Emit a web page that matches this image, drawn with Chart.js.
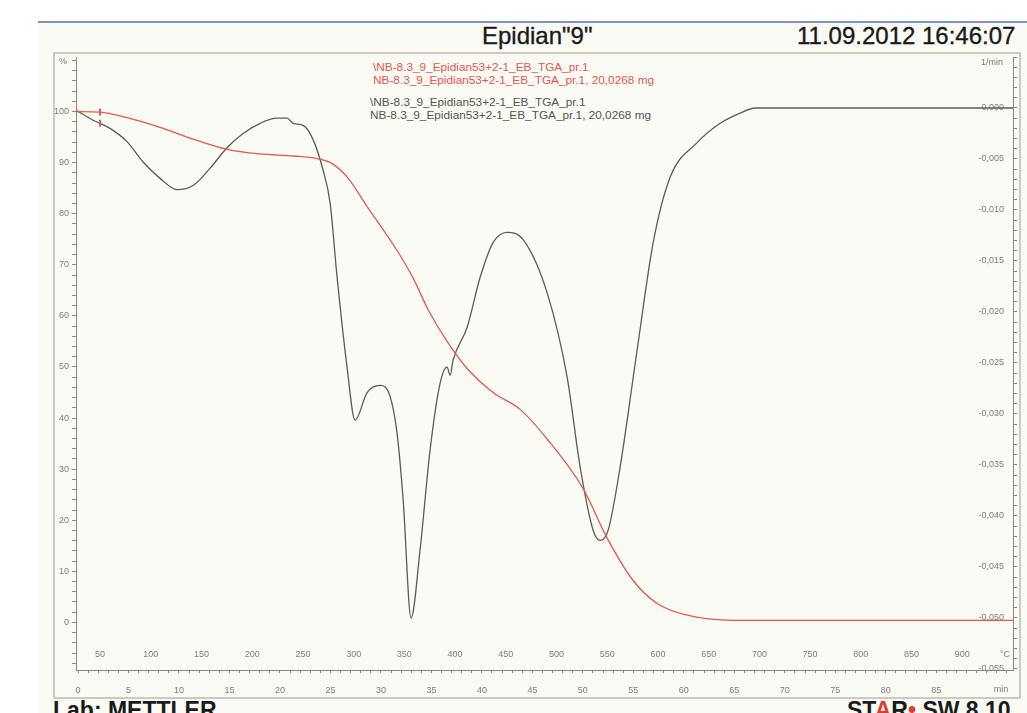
<!DOCTYPE html>
<html>
<head>
<meta charset="utf-8">
<script src="https://cdn.jsdelivr.net/npm/chart.js@4/dist/chart.umd.min.js"></script>
<style>
  html, body { margin:0; padding:0; background:#ffffff; }
  body { width:1027px; height:713px; position:relative; overflow:hidden; font-family:"Liberation Sans", Arial, sans-serif; }
  #topline { position:absolute; left:38px; top:21px; width:989px; height:2px; background:#7d92bd; }
  #panel { position:absolute; left:38px; top:23px; width:989px; height:690px; background:#fbfbf5; }
  #frame { position:absolute; left:53px; top:52px; width:964px; height:643px; border:2px solid #cdc9bd; box-sizing:content-box; }
  .t { position:absolute; white-space:nowrap; }
  .big { font-size:24px; color:#1a1a1a; -webkit-text-stroke:0.35px #1a1a1a; }
  #title { left:482px; top:22px; }
  #date { left:797px; top:22px; }
  #lab { left:53px; top:697px; font-size:23px; font-weight:bold; color:#1a1a1a; }
  #star { left:847px; top:697px; font-size:23px; font-weight:bold; color:#1a1a1a; }
  .lg { font-size:11.8px; line-height:13px; }
  #lg1 { left:373px; top:61px; color:#e8574c; }
  #lg2 { left:370px; top:96px; color:#55554f; }
  canvas { position:absolute; left:0; top:0; }
</style>
</head>
<body>
<div id="panel"></div>
<div id="topline"></div>
<div id="frame"></div>
<div class="t big" id="title">Epidian"9"</div>
<div class="t big" id="date">11.09.2012 16:46:07</div>
<div class="t lg" id="lg1">\NB-8.3_9_Epidian53+2-1_EB_TGA_pr.1<br>NB-8.3_9_Epidian53+2-1_EB_TGA_pr.1, 20,0268 mg</div>
<div class="t lg" id="lg2">\NB-8.3_9_Epidian53+2-1_EB_TGA_pr.1<br>NB-8.3_9_Epidian53+2-1_EB_TGA_pr.1, 20,0268 mg</div>
<div class="t" id="lab">Lab: METTLER</div>
<div class="t" id="star">S<span>T</span><span style="color:#e23b2e">A</span>R<span style="color:#e23b2e">&#8226;</span> SW 8.10</div>
<canvas id="c" width="1027" height="713"></canvas>
<script>
// TGA curve (mass %, left axis) vs temperature (°C)
const tgaTemp = [26.3, 50, 76.6, 109.2, 141.7, 175.2, 207.8, 240.3, 264, 278, 293.5, 313.3, 342.8, 358.6, 374, 392.1, 411.9, 437.5, 464.1, 490.7, 526.2, 549.9, 575.5, 599.2, 628.8, 674.1, 740, 850, 950];
const tgaMass = [100.0, 99.9, 98.8, 96.9, 94.6, 92.6, 91.7, 91.3, 90.8, 89.9, 87.2, 81.4, 72.8, 67.4, 61.0, 55.0, 49.7, 45.0, 41.7, 35.9, 26.2, 16.5, 8.2, 3.7, 1.4, 0.4, 0.4, 0.4, 0.4];

// DTG curve (1/min, right axis) vs temperature (°C)
const dtgTemp = [26.3, 43.1, 50, 59.9, 76.6, 92.4, 109.2, 125.9, 141.7, 158.5, 175.2, 191.0, 207.8, 224.5, 234.4, 240.3, 250.2, 260.0, 269.9, 276.8, 283.7, 293.5, 301.4, 313.3, 326.1, 336.0, 342.8, 348.8, 356.6, 365.5, 375.4, 385.2, 392.1, 395.1, 398.1, 411.9, 424.7, 437.5, 451.3, 467.1, 490.7, 510.5, 523.3, 536.1, 543.0, 550.9, 562.7, 579.5, 595.3, 612.0, 638.6, 661.3, 681.0, 695.8, 750, 800, 850, 900, 950];
const dtgRate = [-0.0002, -0.0012, -0.0015, -0.0020, -0.0033, -0.0053, -0.0069, -0.0080, -0.0076, -0.0059, -0.0039, -0.0025, -0.0015, -0.0010, -0.0010, -0.0015, -0.0017, -0.0031, -0.0061, -0.0093, -0.0166, -0.0254, -0.0306, -0.0279, -0.0272, -0.0283, -0.0319, -0.0384, -0.0500, -0.0433, -0.0335, -0.0270, -0.0254, -0.0262, -0.0247, -0.0215, -0.0166, -0.0132, -0.0122, -0.0129, -0.0181, -0.0264, -0.0352, -0.0414, -0.0424, -0.0414, -0.0352, -0.0237, -0.0132, -0.0068, -0.0034, -0.0015, -0.0005, 0.0000, 0.0000, 0.0000, 0.0000, 0.0000, 0.0000];

// Axis tick labels
const tempTickLabels = [50, 100, 150, 200, 250, 300, 350, 400, 450, 500, 550, 600, 650, 700, 750, 800, 850, 900];
const timeTickLabels = [0, 5, 10, 15, 20, 25, 30, 35, 40, 45, 50, 55, 60, 65, 70, 75, 80, 85];
const massTickLabels = [0, 10, 20, 30, 40, 50, 60, 70, 80, 90, 100];
const rateTickLabels = [0, -0.005, -0.010, -0.015, -0.020, -0.025, -0.030, -0.035, -0.040, -0.045, -0.050, -0.055];
const markerTemps = [26.3, 50];

const RED = '#e8574c', DARK = '#5c5c54', AX = '#8c897f', TXT = '#7d7d78';
const FONT = '"Liberation Sans", Arial, sans-serif';

const tgaData = tgaTemp.map((t, i) => ({x: t, y: tgaMass[i]}));
const dtgData = dtgTemp.map((t, i) => ({x: t, y: dtgRate[i]}));

const extraText = {
  id: 'extraText',
  afterDraw(chart) {
    const ctx = chart.ctx, xs = chart.scales.x, ca = chart.chartArea;
    ctx.save();
    ctx.font = '9px ' + FONT;
    ctx.fillStyle = TXT;
    ctx.textAlign = 'center';
    ctx.textBaseline = 'middle';
    tempTickLabels.forEach(v => ctx.fillText(String(v), xs.getPixelForValue(v), ca.bottom - 15));
    ctx.fillText('°C', ca.right - 8, ca.bottom - 15);
    ctx.fillText('min', ca.right - 12, ca.bottom + 20);
    ctx.textAlign = 'left';
    ctx.fillText('%', ca.left - 17, ca.top + 5);
    ctx.textAlign = 'right';
    ctx.fillText('1/min', ca.right - 10, ca.top + 6);
    ctx.restore();
  }
};

new Chart(document.getElementById('c'), {
  type: 'line',
  data: {
    datasets: [
      {
        label: 'TGA', data: tgaData, xAxisID: 'x', yAxisID: 'y',
        borderColor: RED, borderWidth: 1.3, cubicInterpolationMode: 'monotone',
        pointStyle: 'line', pointRotation: 90, pointBorderColor: RED, pointBorderWidth: 2,
        pointRadius: c => (c.raw && markerTemps.includes(c.raw.x)) ? 3.5 : 0
      },
      {
        label: 'DTG', data: dtgData, xAxisID: 'x', yAxisID: 'y2',
        borderColor: DARK, borderWidth: 1.3, cubicInterpolationMode: 'monotone',
        pointStyle: 'line', pointRotation: 90, pointBorderColor: RED, pointBorderWidth: 2,
        pointRadius: c => (c.raw && c.raw.x === 50) ? 3.5 : 0
      }
    ]
  },
  options: {
    responsive: false, animation: false, maintainAspectRatio: false,
    layout: { padding: { left: 46, right: 6, top: 57, bottom: 13 } },
    plugins: { legend: { display: false }, tooltip: { enabled: false } },
    scales: {
      x: { type: 'linear', min: 26.3, max: 950, display: false },
      xt: {
        type: 'linear', position: 'bottom', min: -0.2, max: 92.6,
        afterFit(s) { s.height = 30; },
        afterBuildTicks(s) { const t = []; for (let k = 0; k <= 92; k++) t.push({value: k}); s.ticks = t; },
        grid: { drawOnChartArea: false, drawTicks: true, tickLength: 3, color: AX },
        border: { display: true, color: AX },
        ticks: { autoSkip: false, maxRotation: 0, padding: 12, color: TXT, font: { size: 9, family: FONT },
          callback: v => timeTickLabels.includes(v) ? String(v) : '' }
      },
      y: {
        position: 'left', min: -9.32, max: 110.68,
        afterFit(s) { s.width = 30; },
        afterBuildTicks(s) { const t = []; for (let k = -8; k <= 110; k += 2) t.push({value: k}); s.ticks = t; },
        grid: { drawOnChartArea: false, drawTicks: true, tickLength: 4, color: AX },
        border: { display: true, color: AX },
        ticks: { autoSkip: false, padding: 3, color: TXT, font: { size: 9, family: FONT },
          callback: v => massTickLabels.includes(v) ? String(v) : '' }
      },
      y2: {
        position: 'right', min: -0.0551, max: 0.005,
        afterFit(s) { s.width = 8; },
        afterBuildTicks(s) { const t = []; for (let k = -55; k <= 5; k++) t.push({value: k / 1000}); s.ticks = t; },
        grid: { drawOnChartArea: false, drawTicks: true, tickLength: 4, color: AX },
        border: { display: true, color: AX },
        ticks: { autoSkip: false, mirror: true, padding: -9, color: TXT, font: { size: 9, family: FONT },
          callback: v => {
            const k = Math.round(v * 1000);
            return rateTickLabels.some(r => Math.round(r * 1000) === k) ? (k / 1000).toFixed(3).replace('.', ',') : '';
          } }
      }
    }
  },
  plugins: [extraText]
});
</script>
</body>
</html>
